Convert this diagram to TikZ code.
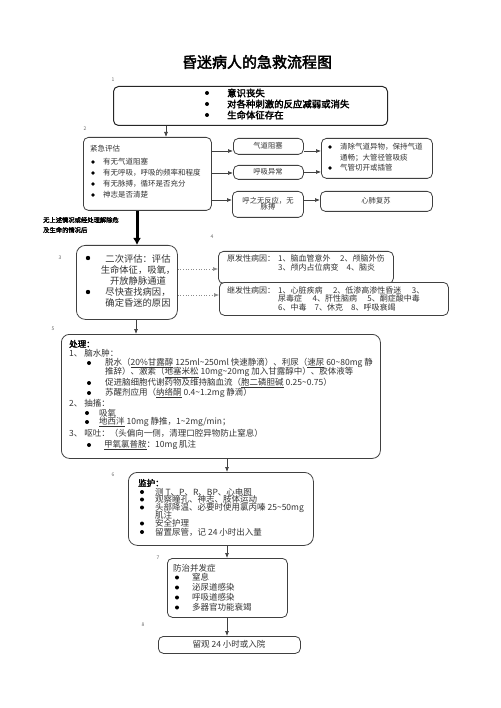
\documentclass[tikz,border=0pt]{standalone}
\usepackage{fontspec}
\setmainfont{Noto Sans CJK SC}[AutoFakeBold=2.5]
\usetikzlibrary{arrows.meta}
\newcommand{\fsz}[1]{\fontsize{#1}{#1}\selectfont}
\newcommand{\tld}{\textasciitilde}
\begin{document}
\begin{tikzpicture}[x=1pt,y=-1pt,
  box/.style={draw=black!75, line width=0.8pt, rounded corners=5pt, anchor=north west, inner sep=0pt, fill=white},
  tx/.style={anchor=west, inner sep=0pt, text=black!80},
  ctx/.style={anchor=center, inner sep=0pt, text=black!80, align=center},
  lbl/.style={anchor=center, inner sep=0pt, text=black!60, font=\fsz{5}},
  arr/.style={-{Latex[length=5pt,width=4pt]}, line width=0.7pt, draw=black!75},
  darr/.style={-{Latex[length=5pt,width=4pt]}, line width=0.6pt, draw=black!45, dotted},
  bul/.style={fill=black}]
\useasboundingbox (0,0) rectangle (500,708);

% title
\node[inner sep=0pt, font=\fsz{15}\bfseries] (title) at (257,62) {昏迷病人的急救流程图};

% step labels
\node[lbl] (l1) at (113,80) {1};
\node[lbl] (l2) at (85,129) {2};
\node[lbl] (l3) at (60,258) {3};
\node[lbl] (l4) at (212,237) {4};
\node[lbl] (l5) at (53,329) {5};
\node[lbl] (l6) at (113,475) {6};
\node[lbl] (l7) at (158,558) {7};
\node[lbl] (l8) at (143,625) {8};

% box 1
\node[box, line width=1pt, draw=black!85, minimum width=274pt, minimum height=39pt] (b1) at (113,86) {};
\foreach \yy in {93,104,115} \fill[bul] (207,\yy) circle (2pt);
\node[tx, text=black, font=\fsz{9.4}\bfseries] (b1a) at (227,93) {意识丧失};
\node[tx, text=black, font=\fsz{9.4}\bfseries] (b1b) at (227,104) {对各种刺激的反应减弱或消失};
\node[tx, text=black, font=\fsz{9.4}\bfseries] (b1c) at (227,115) {生命体征存在};

% box 2
\node[box, minimum width=128pt, minimum height=73pt] (b2) at (83,137) {};
\node[tx, font=\fsz{7.5}] (b2t) at (90,149) {紧急评估};
\foreach \yy in {162,173,184,195} \fill[bul] (93,\yy) circle (1.8pt);
\node[tx, font=\fsz{7.5}] (b2a) at (103,162) {有无气道阻塞};
\node[tx, font=\fsz{7.5}] (b2b) at (103,173) {有无呼吸，呼吸的频率和程度};
\node[tx, font=\fsz{7.5}] (b2c) at (103,184) {有无脉搏，循环是否充分};
\node[tx, font=\fsz{7.5}] (b2d) at (103,195) {神志是否清楚};

% side boxes
\node[box, minimum width=70pt, minimum height=16pt] (a1) at (233,138) {};
\node[ctx, font=\fsz{7.3}] (a1t) at (268,146) {气道阻塞};
\node[box, minimum width=70pt, minimum height=14pt] (a2) at (233,165) {};
\node[ctx, font=\fsz{7.3}] (a2t) at (268,172) {呼吸异常};
\node[box, minimum width=71pt, minimum height=26pt] (a3) at (232,191) {};
\node[ctx, font=\fsz{7.3}, text width=60pt] (a3t) at (268,204) {呼之无反应，无\\[-1.5pt]脉搏};
\node[box, minimum width=111pt, minimum height=40pt] (c0) at (321,138) {};
\foreach \yy in {147,168} \fill[bul] (330,\yy) circle (1.8pt);
\node[tx, font=\fsz{7.5}] (c0a) at (340,147) {清除气道异物，保持气道};
\node[tx, font=\fsz{7.5}] (c0b) at (340,158) {通畅；大管径管吸痰};
\node[tx, font=\fsz{7.5}] (c0c) at (340,168) {气管切开或插管};
\node[box, minimum width=112pt, minimum height=20pt] (d0) at (320,191) {};
\node[ctx, font=\fsz{7.3}] (d0t) at (376,201) {心肺复苏};

\draw[arr] (b2.east |- 0,151) -- (a1.west |- 0,151);
\draw[arr] (b2.east |- 0,173) -- (a2.west |- 0,173);
\draw[arr] (b2.east |- 0,200) -- (a3.west |- 0,200);
\draw[arr] (a1.east |- 0,151) -- (c0.west |- 0,151);
\draw[arr] (a2.east |- 0,172) -- (c0.west |- 0,172);
\draw[arr] (a3.east |- 0,200) -- (d0.west |- 0,200);

% arrow 1 -> 2
\draw[arr] (b1.south -| 166,0) -- (b2.north -| 166,0);

% note
\node[tx, text=black, font=\fsz{6.3}\bfseries] (n1) at (43,220) {无上述情况或经处理解除危};
\node[tx, text=black, font=\fsz{6.3}\bfseries] (n2) at (43,230) {及生命的情况后};

% box 3
\node[box, rounded corners=9pt, minimum width=101pt, minimum height=74pt] (b3) at (76,245) {};
\draw[-{Latex[length=7pt,width=8pt]}, line width=3pt] (b2.south -| 137,0) -- (b3.north -| 137,0);
\foreach \yy in {258,292} \fill[bul] (88,\yy) circle (2.2pt);
\node[ctx, font=\fontsize{9.3}{11.2}\selectfont] (b3t) at (138,281) {二次评估：评估\\生命体征，吸氧，\\开放静脉通道\\尽快查找病因，\\确定昏迷的原因};

% box 4
\node[box, minimum width=175pt, minimum height=32pt] (c1) at (218,251) {};
\node[box, minimum width=229pt, minimum height=33pt] (c2) at (219,282) {};
\node[tx, font=\fsz{8}] (c1a) at (227,258) {原发性病因：};
\node[tx, font=\fsz{8}] (c1b) at (278,258) {1、脑血管意外\hspace{1.2em}2、颅脑外伤};
\node[tx, font=\fsz{8}] (c1c) at (278,267) {3、颅内占位病变\hspace{1em}4、脑炎};
\node[tx, font=\fsz{8}] (c2a) at (227,290) {继发性病因：};
\node[tx, font=\fsz{8}] (c2b) at (278,290) {1、心脏疾病\hspace{1.3em}2、低渗高渗性昏迷\hspace{1.3em}3、};
\node[tx, font=\fsz{8}] (c2c) at (278,298.5) {尿毒症\hspace{1.3em}4、肝性脑病\hspace{1.3em}5、酮症酸中毒};
\node[tx, font=\fsz{8}] (c2d) at (278,307) {6、中毒\hspace{1em}7、休克\hspace{1em}8、呼吸衰竭};
\draw[darr] (b3.east |- 0,269) -- (c1.west |- 0,269);
\draw[darr] (b3.east |- 0,295) -- (c2.west |- 0,295);

% box 5
\node[box, rounded corners=8pt, minimum width=319pt, minimum height=124pt] (b5) at (61,334) {};
\draw[arr] (b3.south -| 136,0) -- (b5.north -| 136,0);
\node[tx, text=black, font=\fsz{8.5}\bfseries] (p0) at (69,344) {处理：};
\node[tx, font=\fsz{8.5}] (p1) at (69,353.5) {1、 脑水肿：};
\foreach \yy in {363,383,393,445} \fill[bul] (89,\yy) circle (2pt);
\node[tx, font=\fsz{8.5}] (p2) at (105,363) {脱水（\underline{20\%甘露醇} 125ml\tld250ml 快速静滴）、利尿（\underline{速尿} 60\tld80mg 静};
\node[tx, font=\fsz{8.5}] (p3) at (105,372.5) {推辞）、激素（\underline{地塞米松} 10mg\tld20mg 加入甘露醇中）、胶体液等};
\node[tx, font=\fsz{8.5}] (p4) at (105,383) {促进脑细胞代谢药物及维持脑血流（\underline{胞二磷胆碱} 0.25\tld0.75）};
\node[tx, font=\fsz{8.5}] (p5) at (105,393) {苏醒剂应用（\underline{纳络酮} 0.4\tld1.2mg 静滴）};
\node[tx, font=\fsz{8.5}] (p6) at (69,403) {2、 抽搐：};
\foreach \yy in {413,422} \fill[bul] (87,\yy) circle (2pt);
\node[tx, font=\fsz{8.5}] (p7) at (99,413) {吸氧};
\node[tx, font=\fsz{8.5}] (p8) at (99,422) {\underline{地西泮} 10mg 静推，1\tld2mg/min；};
\node[tx, font=\fsz{8.5}] (p9) at (69,433) {3、 呕吐：（头偏向一侧，清理口腔异物防止窒息）};
\node[tx, font=\fsz{8.5}] (p10) at (104,445) {\underline{甲氧氯普胺}：10mg 肌注};

% box 6
\node[box, rounded corners=9pt, minimum width=185pt, minimum height=73pt] (b6) at (128,472) {};
\draw[arr] (b5.south -| 227,0) -- (b6.north -| 227,0);
\node[tx, text=black, font=\fsz{8.5}\bfseries] (m0) at (138,483) {监护：};
\foreach \yy in {492,499.5,507.5,523.5,532} \fill[bul] (142,\yy) circle (2pt);
\node[tx, font=\fsz{8.5}] (m1) at (155,492) {测 T、P、R、BP、心电图};
\node[tx, font=\fsz{8.5}] (m2) at (155,499.5) {观察瞳孔、神志、肢体运动};
\node[tx, font=\fsz{8.5}] (m3) at (155,507.5) {头部降温、必要时使用氯丙嗪 25\tld50mg};
\node[tx, font=\fsz{8.5}] (m4) at (155,515.5) {肌注};
\node[tx, font=\fsz{8.5}] (m5) at (155,523.5) {安全护理};
\node[tx, font=\fsz{8.5}] (m6) at (155,532) {留置尿管，记 24 小时出入量};

% box 7
\node[box, minimum width=120pt, minimum height=59pt] (b7) at (167,558) {};
\draw[arr] (b6.south -| 227,0) -- (b7.north -| 227,0);
\node[tx, font=\fsz{8.5}] (k0) at (173,568) {防治并发症};
\foreach \yy in {577.5,587.5,597.5,607.5} \fill[bul] (177,\yy) circle (2pt);
\node[tx, font=\fsz{8.5}] (k1) at (192,577.5) {窒息};
\node[tx, font=\fsz{8.5}] (k2) at (192,587.5) {泌尿道感染};
\node[tx, font=\fsz{8.5}] (k3) at (192,597.5) {呼吸道感染};
\node[tx, font=\fsz{8.5}] (k4) at (192,607.5) {多器官功能衰竭};

% box 8
\node[box, minimum width=142pt, minimum height=17pt] (b8) at (158,636) {};
\draw[arr] (b7.south -| 227,0) -- (b8.north -| 227,0);
\node[ctx, font=\fsz{8.5}] (b8t) at (229,644.5) {留观 24 小时或入院};
\end{tikzpicture}
\end{document}
